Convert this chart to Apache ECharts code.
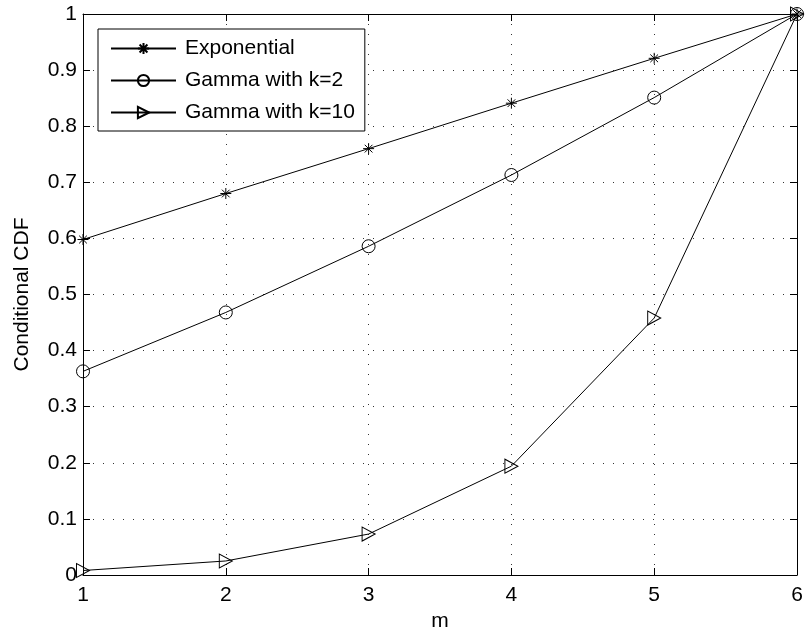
<!DOCTYPE html>
<html>
<head>
<meta charset="utf-8">
<script src="https://cdn.jsdelivr.net/npm/echarts@6/dist/echarts.min.js"></script>
<style>
html,body{margin:0;padding:0;background:#fff;}
#c{width:806px;height:637px;}
</style>
</head>
<body>
<div id="c"></div>
<script>
var mValues = [1, 2, 3, 4, 5, 6];
var expCdf = [0.598, 0.680, 0.760, 0.841, 0.921, 1.0];
var gamma2Cdf = [0.363, 0.468, 0.586, 0.713, 0.851, 1.0];
var gamma10Cdf = [0.008, 0.025, 0.073, 0.194, 0.458, 1.0];
var seriesNames = ['Exponential', 'Gamma with k=2', 'Gamma with k=10'];

function pairs(ys) { return mValues.map(function (m, i) { return [m, ys[i]]; }); }

var FONT = 'Liberation Sans';
var asterisk = 'path://M0,-10L0,10M-10,0L10,0M-7,-7L7,7M-7,7L7,-7';

var chart = echarts.init(document.getElementById('c'), null, {renderer: 'canvas'});
var baseSeries = {
  type: 'line',
  lineStyle: {color: '#000', width: 1},
  itemStyle: {color: 'rgba(0,0,0,0)', borderColor: '#000', borderWidth: 1},
  showAllSymbol: true,
  animation: false,
  z: 3
};
chart.setOption({
  animation: false,
  backgroundColor: '#fff',
  textStyle: {fontFamily: FONT, color: '#000'},
  grid: {left: 83, right: 9, top: 14, bottom: 60, containLabel: false},
  legend: {
    left: 98, top: 29,
    orient: 'vertical',
    backgroundColor: '#fff',
    borderColor: '#000', borderWidth: 1,
    padding: [9, 10, 8, 12],
    itemWidth: 65, itemHeight: 14, itemGap: 11,
    textStyle: {fontFamily: FONT, fontSize: 21, color: '#000', padding: [0, 0, 0, 4]},
    data: seriesNames
  },
  xAxis: [{
    type: 'value', min: 1, max: 6, interval: 1,
    name: 'm', nameLocation: 'middle', nameGap: 36,
    nameTextStyle: {fontFamily: FONT, fontSize: 21, color: '#000'},
    axisLine: {lineStyle: {color: '#000', width: 1}},
    axisTick: {inside: true, length: 7, lineStyle: {color: '#000'}},
    axisLabel: {fontFamily: FONT, fontSize: 21, color: '#000', margin: 10},
    splitLine: {show: true, lineStyle: {color: '#333', type: [1, 9], width: 1}}
  }, {
    type: 'value', position: 'top', min: 1, max: 6, interval: 1,
    axisLine: {show: true, onZero: false, lineStyle: {color: '#000', width: 1}},
    axisTick: {show: true, inside: true, length: 7, lineStyle: {color: '#000'}},
    axisLabel: {show: false}, splitLine: {show: false}
  }],
  yAxis: [{
    type: 'value', min: 0, max: 1, interval: 0.1,
    name: 'Conditional CDF', nameLocation: 'middle', nameGap: 50,
    nameTextStyle: {fontFamily: FONT, fontSize: 21, color: '#000'},
    axisLine: {show: true, lineStyle: {color: '#000', width: 1}},
    axisTick: {show: true, inside: true, length: 7, lineStyle: {color: '#000'}},
    axisLabel: {fontFamily: FONT, fontSize: 21, color: '#000', margin: 6,
      formatter: function (v) { return String(Math.round(v * 10) / 10); }},
    splitLine: {show: true, lineStyle: {color: '#333', type: [1, 9], width: 1}}
  }, {
    type: 'value', position: 'right', min: 0, max: 1, interval: 0.1,
    axisLine: {show: true, onZero: false, lineStyle: {color: '#000', width: 1}},
    axisTick: {show: true, inside: true, length: 7, lineStyle: {color: '#000'}},
    axisLabel: {show: false}, splitLine: {show: false}
  }],
  series: [
    Object.assign({}, baseSeries, {name: seriesNames[0], data: pairs(expCdf), symbol: asterisk, symbolSize: 11}),
    Object.assign({}, baseSeries, {name: seriesNames[1], data: pairs(gamma2Cdf), symbol: 'circle', symbolSize: 13}),
    Object.assign({}, baseSeries, {name: seriesNames[2], data: pairs(gamma10Cdf), symbol: 'triangle', symbolRotate: -90, symbolSize: [14, 13]})
  ]
});
</script>
</body>
</html>
